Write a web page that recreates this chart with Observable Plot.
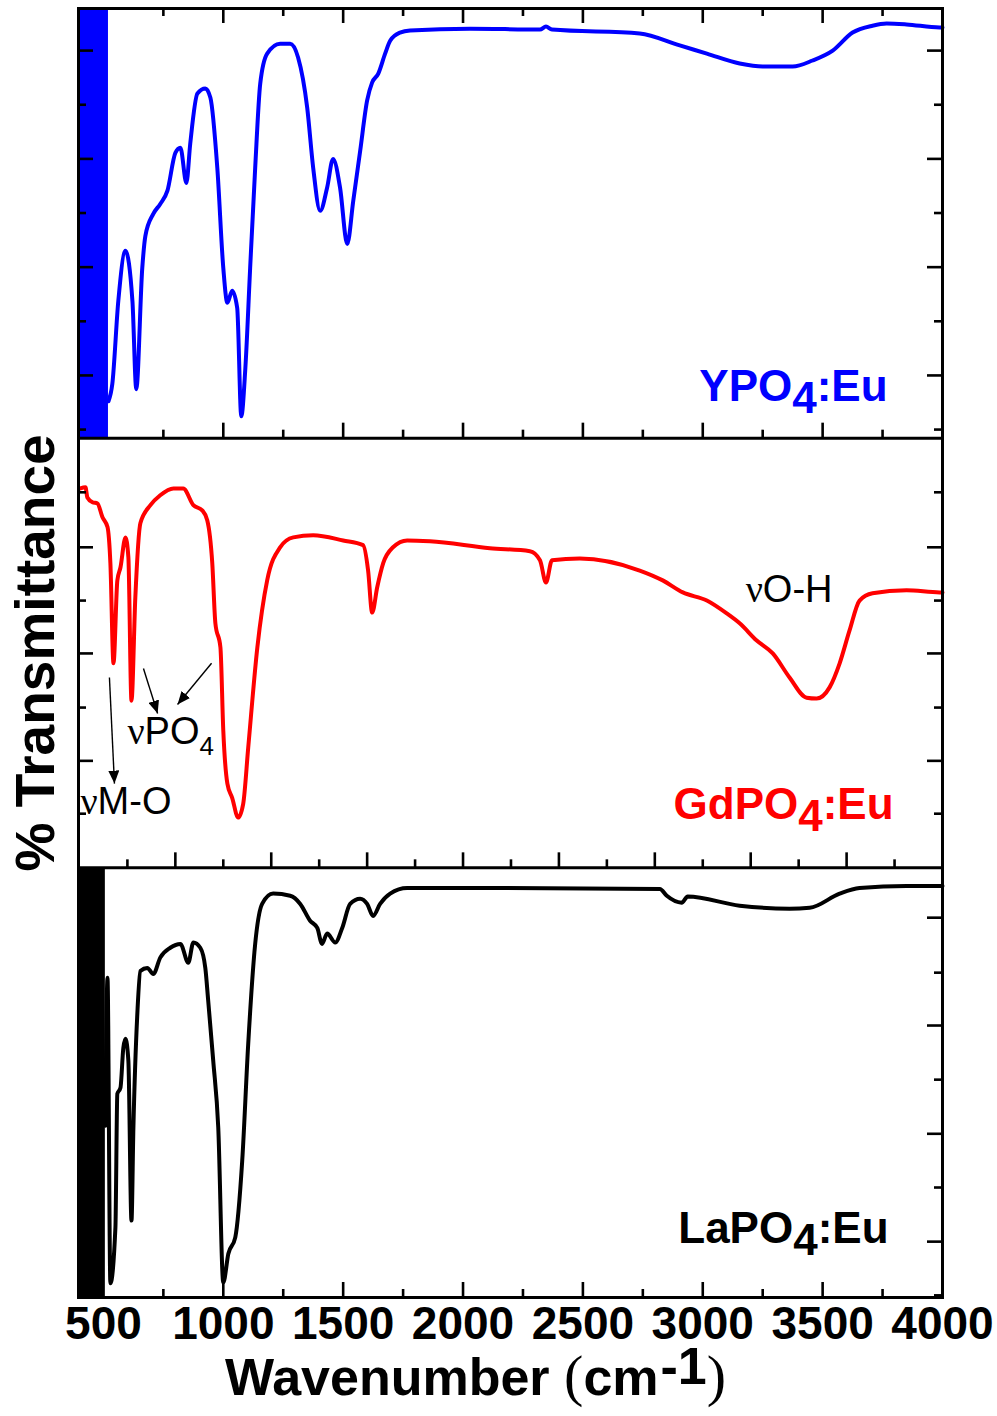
<!DOCTYPE html>
<html><head><meta charset="utf-8">
<script src="https://cdn.jsdelivr.net/npm/d3@7"></script>
<script src="https://cdn.jsdelivr.net/npm/@observablehq/plot@0.6"></script>
<style>
body{margin:0;background:#fff;}
#wrap{position:relative;width:997px;height:1416px;font-family:"Liberation Sans",Arial,sans-serif;background:#fff;}
#xlabel{position:absolute;left:225px;top:1350px;font-size:52px;font-weight:bold;line-height:52px;white-space:nowrap;color:#000;}
#xlabel .paren{font-family:"Liberation Serif","Times New Roman",serif;font-weight:normal;font-size:58px;}
#xlabel .sup{font-size:52px;position:relative;top:-11px;margin-left:2px;}
</style></head><body><div id="wrap"></div>
<script>
// ---- data ----
const ypoWn = [521,537,562,592,621,637,662,675,708,737,767,800,821,846,862,892,925,946,975,1000,1017,1037,1058,1075,1092,1112,1133,1154,1183,1237,1279,1312,1350,1375,1404,1433,1458,1487,1517,1542,1571,1600,1621,1646,1675,1696,1737,1779,2029,2321,2346,2371,2737,2904,3017,3154,3250,3375,3458,3542,3625,3708,3767,3850,3988,4000];
const ypoT  = [8.6,12.6,31.9,43.6,31.9,11.4,39.6,47.1,52.2,54.5,57.6,66.4,67.6,59.4,68.5,80.2,81.4,79.3,62.9,39.6,31.5,34.3,30.3,5.1,16.3,39.6,62.9,82.5,89.5,91.8,91.8,88.6,76.9,62.9,52.9,58.3,65.0,58.3,45.2,55.2,66.9,78.6,82.8,84.8,89.5,92.5,94.4,94.9,95.3,95.1,95.8,95.1,94.2,91.4,89.5,87.2,86.5,86.5,87.9,90.2,94.4,96.0,96.5,96.3,95.6,95.6];
const gdWn = [404,425,433,454,475,496,517,529,542,558,571,592,604,617,633,654,696,737,792,833,875,912,933,954,967,988,1000,1017,1037,1062,1083,1104,1142,1183,1237,1292,1375,1500,1583,1604,1621,1642,1667,1708,1767,1862,2112,2279,2321,2346,2371,2487,2737,2833,2917,3017,3100,3154,3225,3292,3362,3433,3475,3529,3571,3612,3654,3708,3850,3988,4000];
const gdT  = [88.3,88.6,86.2,85.1,84.8,81.6,79.3,70.9,47.6,66.9,69.9,76.9,72.3,38.9,62.9,80.2,84.4,86.7,88.3,88.3,84.4,83.2,80.9,70.9,56.9,51.3,31.9,19.6,16.3,11.7,14.9,28.0,51.3,66.9,74.6,76.9,77.4,76.2,75.1,69.2,59.4,65.3,70.9,74.6,76.2,76.0,74.4,73.7,71.6,66.4,71.6,72.0,69.2,66.9,64.1,62.2,59.2,56.9,52.9,49.9,44.3,39.6,39.4,42.0,47.6,55.2,62.2,63.9,64.6,64.1,64.1];
const laWn = [508,517,529,550,558,571,583,592,604,617,625,642,654,683,708,737,779,821,854,875,904,925,937,958,979,1000,1021,1050,1079,1104,1133,1162,1208,1279,1321,1362,1392,1412,1433,1467,1496,1529,1571,1600,1625,1654,1696,1767,2154,2821,2850,2912,2937,3154,3362,3446,3571,3654,3850,3988,4000];
const laT  = [40,74.4,3.3,16.3,47.4,48.8,58.1,60.2,55.1,17.9,39.5,66.7,76.0,76.7,75.3,79.1,81.4,82.3,77.9,82.6,81.4,76.7,69.1,55.1,39.5,3.5,10.2,14.0,31.9,59.1,82.3,91.6,94.0,93.5,91.6,87.7,86.0,82.3,84.7,82.6,86.0,91.6,92.8,91.6,88.8,91.6,94.0,95.3,95.3,95.1,93.5,91.9,93.3,91.2,90.5,90.7,94.0,95.3,95.8,95.8,95.8];

// saturated (noisy) low-wavenumber region edge for YPO4 and LaPO4
const noiseEnd = {ypo: 521, la: 508};

const sampleNames = ["YPO4:Eu", "GdPO4:Eu", "LaPO4:Eu"];
const sampleColors = ["#0000ff", "#ff0000", "#000000"];
const sampleLabelWn = [3771, 3796, 3775];
const sampleLabelT = [8.6, 11.4, 12.8];

const xLabelTicks = [500,1000,1500,2000,2500,3000,3500,4000];
const ypoXTicks = d3.range(750, 4000, 250);
const gdXTicks = d3.range(600, 4000, 200);
const laXTicks = d3.range(750, 4000, 250);
const ypoYMajor = [14.6, 39.8, 65.0, 90.2], ypoYMinor = [2.0, 27.2, 52.4, 77.6];
const gdYMajor = [24.9, 49.9, 74.6], gdYMinor = [12.6, 37.3, 62.2, 87.4];
const laYMajor = [13.0, 38.1, 63.3, 88.4], laYMinor = [0.5, 25.6, 50.7, 75.6];

const notes = [
  {wn: 3179, t: 61.8, text: "νO-H"},
  {wn: 600, t: 28.9, text: "νPO4"},
  {wn: 404, t: 12.6, text: "νM-O"}
];
const arrows = [
  {wn1: 525, t1: 44.3, wn2: 546, t2: 19.6},
  {wn1: 667, t1: 46.4, wn2: 726, t2: 35.9},
  {wn1: 951, t1: 47.6, wn2: 809, t2: 38.0}
];

// ---- layout ----
const W = 997, H = 1350, ML = 78, MR = 55, MT = 8, MB = 53;
const xDom = [396, 4000], yDom = [0, 300];
const kx = (W - ML - MR) / (xDom[1] - xDom[0]);
const ky = (H - MT - MB) / (yDom[1] - yDom[0]);
const LMAJ = 15, LMIN = 8;
const offs = [200, 100, 0]; // stacking offset of each panel

const rows = [];
[[ypoWn, ypoT], [gdWn, gdT], [laWn, laT]].forEach(([wn, t], s) => {
  wn.forEach((w, i) => rows.push({s: sampleNames[s], w, t: t[i] + offs[s]}));
});

const bands = [
  {x1: xDom[0], x2: noiseEnd.ypo, y1: offs[0], y2: offs[0] + 100, c: sampleColors[0]},
  {x1: xDom[0], x2: noiseEnd.la, y1: offs[2], y2: offs[2] + 100, c: sampleColors[2]}
];

const xt = [];
function addX(ticks, base, dir, majorEvery) {
  ticks.forEach(v => {
    const len = (v % majorEvery === 0 ? LMAJ : LMIN) / ky;
    xt.push({x: v, y1: base, y2: base + dir * len});
  });
}
addX(ypoXTicks, offs[0] + 100, -1, 500);
addX(ypoXTicks, offs[0], 1, 500);
addX(gdXTicks, offs[1], 1, 400);
addX(laXTicks, offs[2], 1, 500);

const yt = [];
function addY(major, minor, off) {
  [[major, LMAJ], [minor, LMIN]].forEach(([arr, L]) => arr.forEach(v => {
    yt.push({y: v + off, x1: xDom[0], x2: xDom[0] + L / kx});
    yt.push({y: v + off, x1: xDom[1], x2: xDom[1] - L / kx});
  }));
}
addY(ypoYMajor, ypoYMinor, offs[0]);
addY(gdYMajor, gdYMinor, offs[1]);
addY(laYMajor, laYMinor, offs[2]);

const labels = sampleNames.map((n, i) => ({n, w: sampleLabelWn[i], t: sampleLabelT[i] + offs[i], c: sampleColors[i]}));
const noteRows = notes.map(d => ({...d, t: d.t + offs[1]}));
const arrowRows = arrows.map(d => ({...d, t1: d.t1 + offs[1], t2: d.t2 + offs[1]}));

function filledArrow(color) {
  const ns = "http://www.w3.org/2000/svg";
  const m = document.createElementNS(ns, "marker");
  m.setAttribute("viewBox", "-13 -5.5 13 11");
  m.setAttribute("markerWidth", 13);
  m.setAttribute("markerHeight", 11);
  m.setAttribute("markerUnits", "userSpaceOnUse");
  m.setAttribute("orient", "auto");
  m.setAttribute("refX", 0);
  m.setAttribute("refY", 0);
  const p = document.createElementNS(ns, "path");
  p.setAttribute("d", "M-13,-5.5L0,0L-13,5.5Z");
  p.setAttribute("fill", color);
  p.setAttribute("stroke", "none");
  m.appendChild(p);
  return m;
}

const plot = Plot.plot({
  width: W, height: H,
  marginLeft: ML, marginRight: MR, marginTop: MT, marginBottom: MB,
  style: {fontFamily: '"Liberation Sans", Arial, sans-serif', background: "#fff", color: "#000", overflow: "visible"},
  x: {domain: xDom},
  y: {domain: yDom, axis: null},
  color: {domain: sampleNames, range: sampleColors},
  marks: [
    Plot.line(rows, {x: "w", y: "t", z: "s", stroke: "s", strokeWidth: 4, curve: "monotone-x"}),
    Plot.rect(bands, {x1: "x1", x2: "x2", y1: "y1", y2: "y2", fill: "c"}),
    Plot.ruleX(xt, {x: "x", y1: "y1", y2: "y2", strokeWidth: 2.6, stroke: "#000"}),
    Plot.ruleY(yt, {y: "y", x1: "x1", x2: "x2", strokeWidth: 2.6, stroke: "#000"}),
    Plot.ruleY([offs[0], offs[1]], {strokeWidth: 3, stroke: "#000"}),
    Plot.frame({strokeWidth: 3, stroke: "#000"}),
    Plot.link(arrowRows, {x1: "wn1", y1: "t1", x2: "wn2", y2: "t2", stroke: "#000", strokeWidth: 1.4, markerEnd: filledArrow}),
    Plot.text(labels, {x: "w", y: "t", text: "n", fill: "c", textAnchor: "end", lineAnchor: "bottom", fontSize: 44, fontWeight: "bold", className: "samplelabel"}),
    Plot.text(noteRows, {x: "wn", y: "t", text: "text", textAnchor: "start", lineAnchor: "bottom", fontSize: 38, fill: "#000", className: "note"}),
    Plot.text(["% Transmittance"], {frameAnchor: "left", textAnchor: "middle", rotate: -90, dx: -42, fontSize: 55, fontWeight: "bold", fill: "#000"}),
    Plot.axisX({ticks: xLabelTicks, tickSize: 0, tickPadding: 9, fontSize: 46, fontWeight: "bold", label: null, tickFormat: d => String(d)})
  ]
});

// subscripts and Greek nu as tspans
const NS = "http://www.w3.org/2000/svg";
function ts(txt, attrs) {
  const e = document.createElementNS(NS, "tspan");
  for (const k in attrs) e.setAttribute(k, attrs[k]);
  e.textContent = txt;
  return e;
}
plot.querySelectorAll("text").forEach(t => {
  const s = t.textContent;
  if (/^(Y|Gd|La)PO4:Eu$/.test(s)) {
    const head = s.slice(0, s.indexOf("4"));
    t.textContent = "";
    t.appendChild(ts(head, {}));
    t.appendChild(ts("4", {dy: 12}));
    t.appendChild(ts(":Eu", {dy: -12}));
  } else if (s.startsWith("ν")) {
    const rest = s.slice(1);
    t.textContent = "";
    t.appendChild(ts("ν", {"font-family": '"Liberation Serif", "Times New Roman", serif'}));
    if (rest === "PO4") {
      t.appendChild(ts("PO", {}));
      t.appendChild(ts("4", {dy: 11, "font-size": 26}));
    } else {
      t.appendChild(ts(rest, {}));
    }
  }
});

const wrap = document.getElementById("wrap");
wrap.appendChild(plot);
const xl = document.createElement("div");
xl.id = "xlabel";
xl.innerHTML = 'Wavenumber <span class="paren">(</span>cm<span class="sup">-1</span><span class="paren">)</span>';
wrap.appendChild(xl);
</script>
</body></html>
